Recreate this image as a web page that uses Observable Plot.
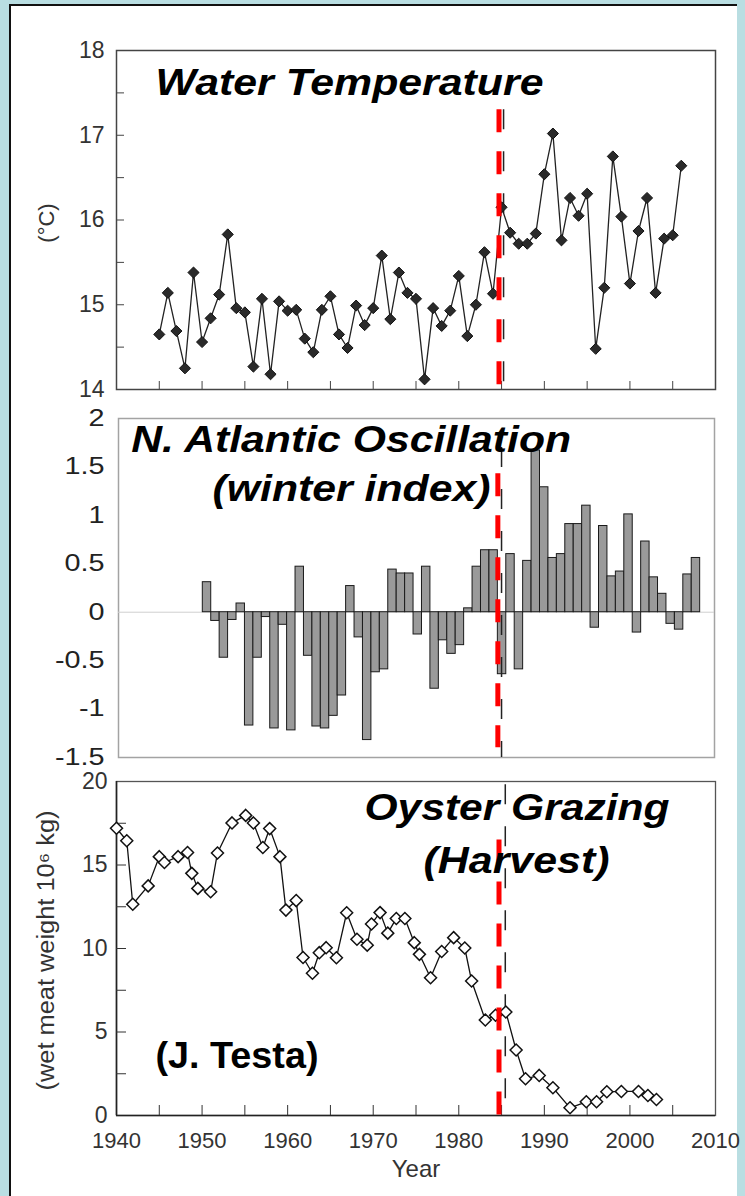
<!DOCTYPE html>
<html><head><meta charset="utf-8">
<script src="https://cdn.jsdelivr.net/npm/d3@7"></script>
<script src="https://cdn.jsdelivr.net/npm/@observablehq/plot@0.6"></script>
<style>
body{margin:0;background:#b9dee2;}
#wrap{position:relative;width:745px;height:1196px;overflow:hidden;}
#panel{position:absolute;left:9px;top:4px;width:726px;height:1220px;background:#fff;border-left:2px solid #111;border-top:2px solid #111;}
.p{position:absolute;left:0;}
</style></head><body>
<div id="wrap"><div id="panel"></div>
<div id="top" class="p" style="top:0px"></div>
<div id="mid" class="p" style="top:400px"></div>
<div id="bot" class="p" style="top:770px"></div>
</div>
<script>
// ---------- data ----------
const tempYears = [1945,1946,1947,1948,1949,1950,1951,1952,1953,1954,1955,1956,1957,1958,1959,1960,1961,1962,1963,1964,1965,1966,1967,1968,1969,1970,1971,1972,1973,1974,1975,1976,1977,1978,1979,1980,1981,1982,1983,1984,1985,1986,1987,1988,1989,1990,1991,1992,1993,1994,1995,1996,1997,1998,1999,2000,2001,2002,2003,2004,2005,2006];
const tempValues = [14.65,15.14,14.69,14.25,15.38,14.56,14.84,15.12,15.83,14.96,14.91,14.27,15.07,14.18,15.04,14.93,14.94,14.60,14.44,14.94,15.10,14.65,14.49,14.99,14.76,14.96,15.58,14.83,15.38,15.14,15.07,14.12,14.96,14.75,14.93,15.34,14.63,15.00,15.62,15.13,16.15,15.85,15.72,15.72,15.84,16.54,17.02,15.76,16.26,16.05,16.31,14.48,15.20,16.75,16.04,15.25,15.87,16.26,15.14,15.78,15.82,16.64];

const naoYears = [1950,1951,1952,1953,1954,1955,1956,1957,1958,1959,1960,1961,1962,1963,1964,1965,1966,1967,1968,1969,1970,1971,1972,1973,1974,1975,1976,1977,1978,1979,1980,1981,1982,1983,1984,1985,1986,1987,1988,1989,1990,1991,1992,1993,1994,1995,1996,1997,1998,1999,2000,2001,2002,2003,2004,2005,2006,2007,2008];
const naoValues = [0.31,-0.09,-0.47,-0.08,0.09,-1.17,-0.47,-0.05,-1.20,-0.13,-1.22,0.47,-0.45,-1.18,-1.20,-1.07,-0.86,0.27,-0.26,-1.32,-0.62,-0.59,0.44,0.40,0.40,-0.23,0.47,-0.79,-0.29,-0.43,-0.34,0.04,0.47,0.64,0.64,-0.64,0.60,-0.59,0.53,1.67,1.29,0.56,0.60,0.91,0.91,1.10,-0.16,0.89,0.37,0.42,1.01,-0.21,0.73,0.36,0.19,-0.12,-0.18,0.39,0.56];

const oysterYears = [1940.0,1941.2,1941.9,1943.7,1945.0,1945.6,1947.2,1948.3,1948.8,1949.5,1951.0,1951.8,1953.5,1955.1,1956.0,1957.1,1957.9,1959.1,1959.8,1961.0,1961.8,1962.9,1963.7,1964.5,1965.7,1966.9,1968.1,1969.3,1969.8,1970.8,1971.7,1972.7,1973.7,1974.8,1975.4,1976.7,1978.0,1979.4,1980.7,1981.5,1983.1,1984.3,1985.5,1986.7,1987.8,1989.4,1991.0,1993.0,1994.9,1996.1,1997.3,1999.0,2001.0,2002.1,2003.1];
const oysterValues = [17.2,16.45,12.65,13.75,15.5,15.15,15.5,15.75,14.5,13.6,13.4,15.72,17.52,17.97,17.52,16.05,17.18,15.5,12.3,12.87,9.46,8.52,9.75,10.05,9.45,12.14,10.55,10.2,11.47,12.15,10.92,11.8,11.8,10.35,9.65,8.25,9.82,10.65,10.03,8.05,5.72,6.0,6.2,3.92,2.2,2.4,1.66,0.46,0.82,0.82,1.42,1.44,1.44,1.2,0.96];

const tempTicks = [14,15,16,17,18];
const tempMinorTicks = [14.5,15,15.5,16,16.5,17,17.5];
const naoTicks = [-1.5,-1,-0.5,0,0.5,1,1.5,2];
const oysterTicks = [0,5,10,15,20];
const oysterMinorTicks = [2.5,5,7.5,10,12.5,15,17.5];
const yearLabels = [1940,1950,1960,1970,1980,1990,2000,2010];
const yearMinorTicks = [1945,1950,1955,1960,1965,1970,1975,1980,1985,1990,1995,2000,2005];
const shiftYear = 1984.7;

// annotations (text, anchor position in data units)
const topTitles = [{text:"Water Temperature", x:1944.56, y:17.61}];
const midTitles = [{text:"N. Atlantic Oscillation", x:1941.5, y:1.77},{text:"(winter index)", x:1951.15, y:1.27}];
const botTitles = [{text:"Oyster Grazing", x:1968.98, y:18.38},{text:"(Harvest)", x:1975.88, y:15.2}];
const creditText = [{text:"(J. Testa)", x:1944.56, y:3.53}];
const titleWidths = {"Water Temperature":388,"N. Atlantic Oscillation":440,"(winter index)":278,"Oyster Grazing":305,"(Harvest)":186,"(J. Testa)":163,"(wet meat weight 10⁶ kg)":280};

// ---------- build ----------
const temp = tempYears.map((year,i)=>({year, value: tempValues[i]}));
const nao = naoYears.map((year,i)=>({year, value: naoValues[i]}));
const oyster = oysterYears.map((year,i)=>({year, value: oysterValues[i]}));

const FONT = "'Liberation Sans', Arial, sans-serif";
const baseStyle = {fontFamily: FONT, fontSize: "22px", color: "#333", background: "transparent", overflow: "visible"};
const titleOpts = {x:"x", y:"y", text:"text", textAnchor:"start", fontSize:36, fontWeight:"bold", fontStyle:"italic", fill:"#000"};
const redRule = {stroke:"#ff0000", strokeWidth:5, strokeDasharray:"23,19"};
const blackRule = {stroke:"#222", strokeWidth:1.5, strokeDasharray:"20,22", dx:2};
const fmt = d => String(d);

const topPlot = Plot.plot({
  width:745, height:400, marginLeft:116, marginRight:30, marginTop:50, marginBottom:11,
  style: baseStyle,
  x:{domain:[1940,2010], axis:null, label:null},
  y:{domain:[14,18], axis:null, label:null},
  marks:[
    Plot.frame({stroke:"#444", strokeWidth:1.5}),
    Plot.axisY(tempTicks, {anchor:"left", tickSize:0, tickPadding:12, label:null, tickFormat:fmt, fontSize:23, fill:"#333"}),
    Plot.axisY(tempMinorTicks, {anchor:"left", tickSize:8, dx:8, tickFormat:()=>"", label:null, stroke:"#444"}),
    Plot.axisX(yearMinorTicks, {anchor:"bottom", tickSize:8, dy:-8, tickFormat:()=>"", label:null, stroke:"#444"}),
    Plot.text(["(°C)"], {frameAnchor:"left", textAnchor:"middle", rotate:-90, dx:-70, dy:3, fontSize:22, fill:"#333"}),
    Plot.ruleX([1985], {y1:17.3, y2:14, ...blackRule}),
    Plot.line(temp, {x:"year", y:"value", stroke:"#222", strokeWidth:1.3}),
    Plot.dot(temp, {x:"year", y:"value", symbol:"diamond2", r:5, fill:"#2a2a2a", stroke:"#111", strokeWidth:1}),
    Plot.ruleX([shiftYear], {y1:17.3, y2:14, ...redRule}),
    Plot.text(topTitles, titleOpts)
  ]
});

const midPlot = Plot.plot({
  width:745, height:370, marginLeft:118, marginRight:31, marginTop:18, marginBottom:13,
  style: baseStyle,
  x:{domain:[1940,2010.7], axis:null, label:null},
  y:{domain:[-1.5,2], axis:null, label:null},
  marks:[
    Plot.frame({stroke:"#a3a3a3", strokeWidth:1.5}),
    Plot.ruleY([0], {stroke:"#cfcfcf", strokeWidth:1}),
    Plot.axisY(naoTicks, {anchor:"left", tickSize:0, tickPadding:14, label:null, tickFormat:fmt, fontSize:23, fill:"#222"}),
    Plot.rect(nao, {x1:"year", x2:d=>d.year+1, y1:0, y2:"value", fill:"#9a9a9a", stroke:"#1a1a1a", strokeWidth:1}),
    Plot.ruleX([1985.2], {y1:1.7, y2:-1.5, ...blackRule}),
    Plot.ruleX([1985.0], {y1:1.43, y2:-1.40, ...redRule}),
    Plot.text(midTitles, titleOpts)
  ]
});

const botPlot = Plot.plot({
  width:745, height:426, marginLeft:116, marginRight:30, marginTop:11, marginBottom:81,
  style: baseStyle,
  x:{domain:[1940,2010], axis:null, label:null},
  y:{domain:[0,20], axis:null, label:null},
  marks:[
    Plot.frame({stroke:"#555", strokeWidth:1.3}),
    Plot.ruleY([0], {stroke:"#222", strokeWidth:1.6}),
    Plot.ruleX([1940], {stroke:"#222", strokeWidth:1.6}),
    Plot.axisY(oysterTicks, {anchor:"left", tickSize:0, tickPadding:9, label:null, tickFormat:fmt, fontSize:23, fill:"#333"}),
    Plot.axisY(oysterMinorTicks, {anchor:"left", tickSize:10, dx:10, tickFormat:()=>"", label:null, stroke:"#333"}),
    Plot.axisX(yearLabels, {anchor:"bottom", tickSize:0, tickPadding:17, label:null, tickFormat:fmt, fill:"#333"}),
    Plot.axisX(yearMinorTicks, {anchor:"bottom", tickSize:10, dy:-10, tickFormat:()=>"", label:null, stroke:"#333"}),
    Plot.text(["Year"], {frameAnchor:"bottom", dy:61, fontSize:24, fill:"#333"}),
    Plot.text(["(wet meat weight 10⁶ kg)"], {frameAnchor:"left", textAnchor:"middle", rotate:-90, dx:-70, dy:2, fontSize:23, fill:"#333"}),
    Plot.ruleX([1985.2], {y1:19.8, y2:0, ...blackRule}),
    Plot.line(oyster, {x:"year", y:"value", stroke:"#111", strokeWidth:1.3}),
    Plot.dot(oyster, {x:"year", y:"value", symbol:"diamond2", r:5.4, fill:"#fff", stroke:"#111", strokeWidth:1.5}),
    Plot.ruleX([shiftYear], {y1:16.5, y2:0, ...redRule}),
    Plot.text(botTitles, titleOpts),
    Plot.text(creditText, {...titleOpts, fontStyle:"normal"})
  ]
});

document.getElementById("top").appendChild(topPlot);
document.getElementById("mid").appendChild(midPlot);
document.getElementById("bot").appendChild(botPlot);

// stretch the wide lettering to the reference widths
for (const svg of [topPlot, midPlot, botPlot]) {
  d3.select(svg).selectAll("text").each(function(){
    const t = this.textContent;
    if (titleWidths[t]) { this.setAttribute("textLength", titleWidths[t]); this.setAttribute("lengthAdjust","spacingAndGlyphs"); }
  });
}
// middle panel tick labels are horizontally wide in the reference
d3.select(midPlot).selectAll("g[aria-label='y-axis tick label'] text").each(function(){
  const w = this.getComputedTextLength();
  if (w > 0) { this.setAttribute("textLength", (w*1.25).toFixed(1)); this.setAttribute("lengthAdjust","spacingAndGlyphs"); }
});
</script>
</body></html>
